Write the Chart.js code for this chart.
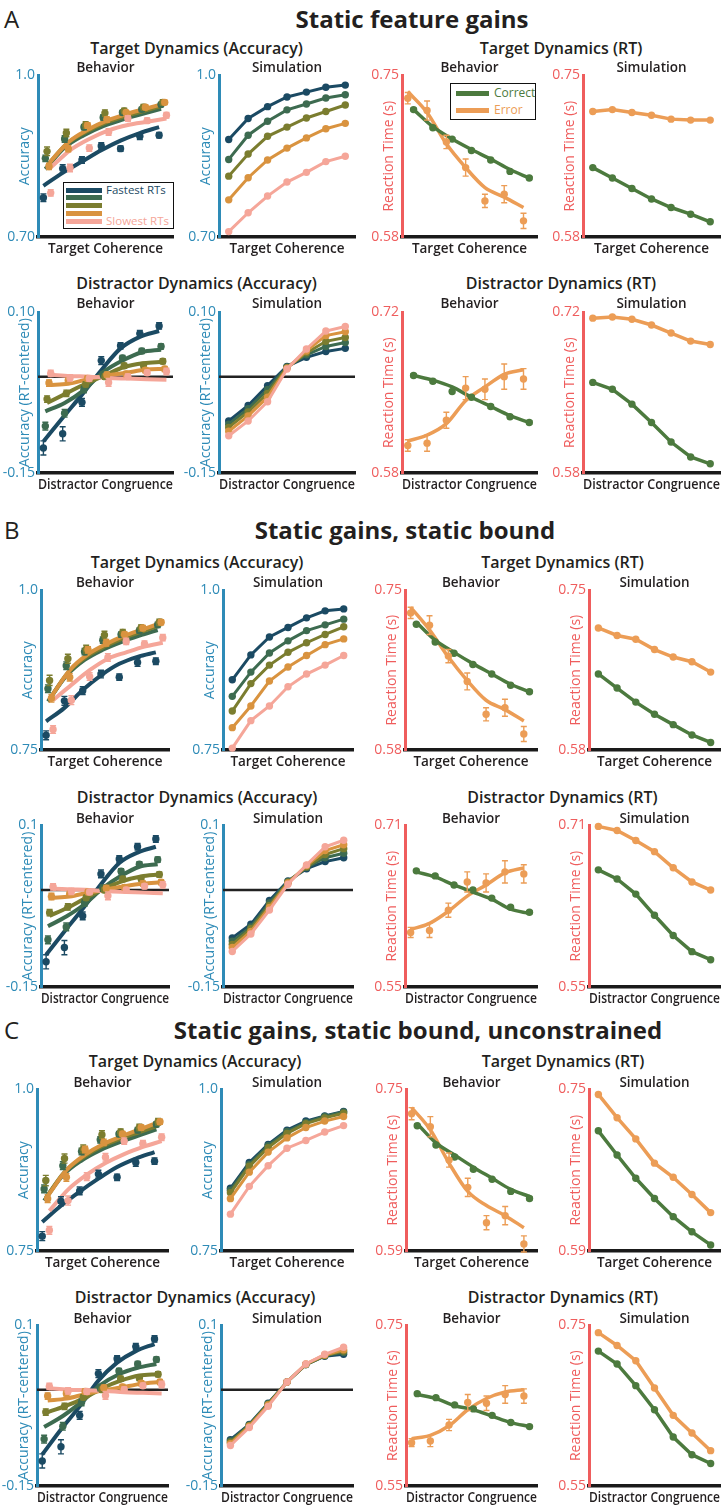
<!DOCTYPE html>
<html>
<head>
<meta charset="utf-8">
<script src="https://cdn.jsdelivr.net/npm/chart.js@4.4.1/dist/chart.umd.min.js"></script>
<style>
  body { margin: 0; background: #fff; }
  #page { position: relative; width: 725px; height: 1506px; overflow: hidden; font-family: "Open Sans", sans-serif; color: #231f20; }
  .t { position: absolute; white-space: nowrap; transform: translate(-50%, -50%); }
  .letter { position: absolute; font-size: 24px; transform: translateY(-50%); }
  .head { font-size: 24px; font-weight: 700; }
  .rowtitle { font-size: 16px; font-weight: 600; }
  .sub { font-size: 13.5px; font-weight: 600; }
  canvas { position: absolute; }
  .legend { position: absolute; border: 1.5px solid #111; background: #fff; box-sizing: border-box; }
  .legend .ln { position: absolute; height: 5px; }
  .legend .lb { position: absolute; line-height: 12px; transform: translateY(-50%); white-space: nowrap; }
</style>
</head>
<body>
<div id="page"></div>
<script>
// ---- x levels (coherence / congruence bins) ----
const levels = [1, 2, 3, 4, 5, 6, 7];
const rtBins = ["Fastest RTs", "", "", "", "Slowest RTs"];
const binShift = [-0.22, -0.12, -0.03, 0.07, 0.16];
const outcomes = ["Correct", "Error"];
const outcomeShift = [0.1, -0.2];

// ---- behaviour (same data in A, B and C) ----
const behTargetAcc = [
  [0.773, 0.827, 0.843, 0.869, 0.864, 0.887, 0.889],
  [0.846, 0.882, 0.904, 0.922, 0.931, 0.937, 0.946],
  [0.859, 0.893, 0.908, 0.930, 0.934, 0.941, 0.950],
  [0.831, 0.864, 0.907, 0.918, 0.931, 0.941, 0.950],
  [0.782, 0.828, 0.865, 0.895, 0.920, 0.916, 0.926]
];
const behTargetAccErr = [
  [0.007, 0.007, 0.006, 0.006, 0.005, 0.006, 0.005],
  [0.006, 0.006, 0.005, 0.005, 0.004, 0.004, 0.004],
  [0.008, 0.007, 0.006, 0.006, 0.005, 0.005, 0.005],
  [0.006, 0.006, 0.005, 0.005, 0.004, 0.004, 0.004],
  [0.006, 0.007, 0.006, 0.006, 0.005, 0.005, 0.005]
];
const behDistAcc = [
  [-0.111, -0.089, -0.040, 0.025, 0.048, 0.067, 0.079],
  [-0.077, -0.057, -0.020, 0.003, 0.029, 0.040, 0.047],
  [-0.035, -0.026, -0.012, 0.000, 0.017, 0.018, 0.024],
  [-0.010, -0.006, -0.003, 0.003, 0.004, 0.010, 0.012],
  [0.005, -0.002, -0.003, -0.009, 0.000, 0.006, 0.008]
];
const behDistAccErr = [
  [0.011, 0.011, 0.006, 0.006, 0.005, 0.005, 0.005],
  [0.006, 0.006, 0.005, 0.005, 0.004, 0.004, 0.004],
  [0.005, 0.005, 0.004, 0.004, 0.004, 0.004, 0.004],
  [0.005, 0.004, 0.004, 0.004, 0.004, 0.004, 0.004],
  [0.005, 0.005, 0.004, 0.006, 0.004, 0.004, 0.005]
];
const behTargetRtCorrect = [0.714, 0.695, 0.683, 0.671, 0.661, 0.649, 0.642];
const behTargetRtCorrectErr = [0.0015, 0.0015, 0.0015, 0.0015, 0.0015, 0.0015, 0.0015];
const behTargetRtError = [0.726, 0.713, 0.680, 0.653, 0.618, 0.625, 0.597];
const behTargetRtErrorErr = [0.006, 0.010, 0.007, 0.009, 0.007, 0.009, 0.008];
const behDistRtCorrect = [0.665, 0.660, 0.651, 0.646, 0.638, 0.629, 0.624];
const behDistRtCorrectErr = [0.0015, 0.0015, 0.0015, 0.0015, 0.0015, 0.0015, 0.0015];
const behDistRtError = [0.604, 0.606, 0.626, 0.654, 0.653, 0.664, 0.662];
const behDistRtErrorErr = [0.005, 0.007, 0.007, 0.010, 0.009, 0.011, 0.009];

// ---- A: static feature gains ----
const fitTargetAccA = [
  [0.795, 0.819, 0.840, 0.861, 0.879, 0.893, 0.904],
  [0.826, 0.866, 0.889, 0.906, 0.918, 0.928, 0.938],
  [0.832, 0.872, 0.895, 0.912, 0.924, 0.934, 0.944],
  [0.837, 0.876, 0.899, 0.916, 0.928, 0.938, 0.948],
  [0.829, 0.861, 0.882, 0.898, 0.908, 0.914, 0.920]
];
const simTargetAccA = [
  [0.881, 0.920, 0.942, 0.960, 0.969, 0.978, 0.982],
  [0.844, 0.889, 0.915, 0.936, 0.947, 0.958, 0.964],
  [0.813, 0.854, 0.887, 0.904, 0.921, 0.933, 0.945],
  [0.769, 0.810, 0.843, 0.865, 0.884, 0.901, 0.911],
  [0.710, 0.745, 0.776, 0.802, 0.820, 0.840, 0.850]
];
const fitTargetRtCorrectA = [0.714, 0.696, 0.683, 0.672, 0.662, 0.651, 0.642];
const fitTargetRtErrorA = [0.733, 0.711, 0.678, 0.653, 0.632, 0.622, 0.611];
const simTargetRtCorrectA = [0.653, 0.642, 0.631, 0.620, 0.611, 0.604, 0.596];
const simTargetRtErrorA = [0.712, 0.714, 0.711, 0.708, 0.704, 0.703, 0.703];
const fitDistAccA = [
  [-0.101, -0.064, -0.028, 0.010, 0.044, 0.062, 0.071],
  [-0.054, -0.041, -0.021, 0.007, 0.025, 0.038, 0.042],
  [-0.041, -0.026, -0.011, 0.002, 0.015, 0.021, 0.023],
  [-0.013, -0.011, -0.004, 0.002, 0.006, 0.011, 0.012],
  [0.003, 0.001, 0.000, -0.002, -0.003, -0.004, -0.005]
];
const simDistAccA = [
  [-0.069, -0.045, -0.014, 0.016, 0.030, 0.039, 0.044],
  [-0.074, -0.050, -0.020, 0.015, 0.034, 0.047, 0.053],
  [-0.079, -0.055, -0.026, 0.014, 0.037, 0.055, 0.061],
  [-0.085, -0.061, -0.032, 0.013, 0.040, 0.064, 0.070],
  [-0.092, -0.069, -0.039, 0.012, 0.043, 0.071, 0.078]
];
const fitDistRtCorrectA = [0.665, 0.661, 0.655, 0.646, 0.638, 0.630, 0.624];
const fitDistRtErrorA = [0.608, 0.613, 0.623, 0.643, 0.655, 0.666, 0.670];
const simDistRtCorrectA = [0.659, 0.653, 0.640, 0.624, 0.607, 0.594, 0.588];
const simDistRtErrorA = [0.715, 0.716, 0.714, 0.709, 0.702, 0.695, 0.692];

// ---- B: static gains, static bound ----
const fitTargetAccB = [
  [0.795, 0.816, 0.844, 0.867, 0.885, 0.896, 0.903],
  [0.826, 0.866, 0.891, 0.907, 0.919, 0.929, 0.938],
  [0.830, 0.871, 0.896, 0.912, 0.925, 0.935, 0.945],
  [0.834, 0.875, 0.900, 0.916, 0.929, 0.939, 0.949],
  [0.828, 0.852, 0.875, 0.893, 0.903, 0.912, 0.918]
];
const simTargetAccB = [
  [0.860, 0.899, 0.927, 0.942, 0.957, 0.968, 0.971],
  [0.834, 0.872, 0.902, 0.921, 0.937, 0.946, 0.955],
  [0.811, 0.854, 0.883, 0.903, 0.918, 0.931, 0.943],
  [0.785, 0.819, 0.858, 0.880, 0.898, 0.915, 0.924],
  [0.753, 0.796, 0.819, 0.849, 0.869, 0.883, 0.898]
];
const fitTargetRtCorrectB = [0.716, 0.697, 0.684, 0.672, 0.661, 0.650, 0.642];
const fitTargetRtErrorB = [0.732, 0.708, 0.679, 0.654, 0.633, 0.623, 0.611];
const simTargetRtCorrectB = [0.661, 0.646, 0.631, 0.618, 0.607, 0.596, 0.588];
const simTargetRtErrorB = [0.710, 0.702, 0.698, 0.687, 0.679, 0.674, 0.663];
const fitDistAccB = [
  [-0.100, -0.064, -0.029, 0.009, 0.042, 0.058, 0.067],
  [-0.056, -0.041, -0.022, 0.003, 0.022, 0.036, 0.040],
  [-0.040, -0.027, -0.012, 0.002, 0.014, 0.021, 0.024],
  [-0.012, -0.010, -0.004, 0.001, 0.006, 0.010, 0.012],
  [0.002, 0.001, 0.000, -0.002, -0.003, -0.004, -0.005]
];
const simDistAccB = [
  [-0.074, -0.053, -0.016, 0.014, 0.033, 0.044, 0.050],
  [-0.079, -0.057, -0.020, 0.013, 0.035, 0.050, 0.057],
  [-0.084, -0.060, -0.024, 0.012, 0.036, 0.055, 0.064],
  [-0.089, -0.064, -0.027, 0.011, 0.038, 0.061, 0.070],
  [-0.095, -0.068, -0.031, 0.009, 0.039, 0.067, 0.077]
];
const fitDistRtCorrectB = [0.664, 0.659, 0.651, 0.644, 0.637, 0.627, 0.623];
const fitDistRtErrorB = [0.607, 0.613, 0.625, 0.640, 0.651, 0.663, 0.668];
const simDistRtCorrectB = [0.666, 0.657, 0.642, 0.621, 0.601, 0.585, 0.577];
const simDistRtErrorB = [0.709, 0.705, 0.695, 0.684, 0.668, 0.654, 0.646];

// ---- C: static gains, static bound, unconstrained ----
const fitTargetAccC = [
  [0.795, 0.820, 0.842, 0.862, 0.880, 0.893, 0.903],
  [0.828, 0.867, 0.890, 0.906, 0.918, 0.928, 0.938],
  [0.832, 0.872, 0.895, 0.912, 0.924, 0.934, 0.944],
  [0.835, 0.875, 0.899, 0.916, 0.928, 0.939, 0.950],
  [0.812, 0.845, 0.868, 0.886, 0.900, 0.911, 0.920]
];
const simTargetAccC = [
  [0.847, 0.887, 0.915, 0.937, 0.951, 0.959, 0.966],
  [0.844, 0.884, 0.913, 0.935, 0.949, 0.958, 0.965],
  [0.840, 0.881, 0.910, 0.932, 0.947, 0.956, 0.963],
  [0.831, 0.872, 0.903, 0.925, 0.941, 0.951, 0.958],
  [0.807, 0.850, 0.882, 0.909, 0.921, 0.934, 0.944]
];
const fitTargetRtCorrectC = [0.716, 0.697, 0.685, 0.673, 0.662, 0.651, 0.644];
const fitTargetRtErrorC = [0.732, 0.710, 0.677, 0.649, 0.635, 0.625, 0.613];
const simTargetRtCorrectC = [0.709, 0.685, 0.662, 0.642, 0.624, 0.609, 0.596];
const simTargetRtErrorC = [0.745, 0.722, 0.701, 0.677, 0.663, 0.646, 0.628];
const fitDistAccC = [
  [-0.101, -0.062, -0.026, 0.014, 0.042, 0.060, 0.071],
  [-0.058, -0.041, -0.019, 0.007, 0.024, 0.034, 0.040],
  [-0.036, -0.026, -0.014, 0.002, 0.014, 0.022, 0.024],
  [-0.017, -0.014, -0.007, -0.001, 0.004, 0.009, 0.012],
  [0.002, 0.000, -0.001, -0.002, -0.004, -0.005, -0.006]
];
const simDistAccC = [
  [-0.078, -0.054, -0.021, 0.012, 0.039, 0.052, 0.055],
  [-0.080, -0.055, -0.022, 0.012, 0.039, 0.053, 0.058],
  [-0.082, -0.056, -0.023, 0.012, 0.039, 0.053, 0.060],
  [-0.084, -0.057, -0.024, 0.012, 0.040, 0.054, 0.062],
  [-0.087, -0.059, -0.026, 0.012, 0.040, 0.055, 0.066]
];
const fitDistRtCorrectC = [0.664, 0.659, 0.650, 0.645, 0.637, 0.629, 0.624];
const fitDistRtErrorC = [0.609, 0.613, 0.625, 0.645, 0.659, 0.667, 0.670];
const simDistRtCorrectC = [0.718, 0.702, 0.675, 0.645, 0.611, 0.589, 0.578];
const simDistRtErrorC = [0.741, 0.725, 0.706, 0.672, 0.638, 0.616, 0.594];

// ---- y ranges and tick labels ----
const accRangeA = [0.70, 1.0], accTicksA = ["0.70", "1.0"];
const accRangeBC = [0.75, 1.0], accTicksBC = ["0.75", "1.0"];
const distAccRange = [-0.15, 0.10], distAccTicksA = ["-0.15", "0.10"], distAccTicksBC = ["-0.15", "0.1"];
const targetRtRangeAB = [0.58, 0.75], targetRtTicksAB = ["0.58", "0.75"];
const targetRtRangeC = [0.59, 0.75], targetRtTicksC = ["0.59", "0.75"];
const distRtRangeA = [0.58, 0.72], distRtTicksA = ["0.58", "0.72"];
const distRtRangeB = [0.55, 0.71], distRtTicksB = ["0.55", "0.71"];
const distRtRangeC = [0.55, 0.75], distRtTicksC = ["0.55", "0.75"];

// ---- styling ----
const FONT = "Open Sans";
const binColors = ["#1b4a63", "#3d6b50", "#7b7d2f", "#d9933f", "#f5a699"];
const correctColor = "#4c7a3e", errorColor = "#ec9d56";
const accColor = "#2e8bb7", rtColor = "#ef5d5d";
const Y_W = 38, PAD_T = 8, PAD_R = 6, X_H = 24;

const page = document.getElementById("page");

function addText(txt, x, y, cls, color) {
  const d = document.createElement("div");
  d.className = cls === "letter" ? "letter" : "t " + cls;
  d.textContent = txt;
  d.style.left = x + "px";
  d.style.top = y + "px";
  if (color) d.style.color = color;
  page.appendChild(d);
}

const errorBars = {
  id: "errorBars",
  beforeDatasetDraw(chart, args) {
    const ds = chart.data.datasets[args.index];
    if (!ds.errors) return;
    const { ctx, scales: { x, y } } = chart;
    ctx.save();
    ctx.strokeStyle = ds.borderColor;
    ctx.lineWidth = 1.4;
    ds.data.forEach((p, i) => {
      const px = x.getPixelForValue(p.x);
      const hi = y.getPixelForValue(p.y + ds.errors[i]);
      const lo = y.getPixelForValue(p.y - ds.errors[i]);
      ctx.beginPath();
      ctx.moveTo(px, hi); ctx.lineTo(px, lo);
      ctx.moveTo(px - 3, hi); ctx.lineTo(px + 3, hi);
      ctx.moveTo(px - 3, lo); ctx.lineTo(px + 3, lo);
      ctx.stroke();
    });
    ctx.restore();
  }
};

const zeroLine = {
  id: "zeroLine",
  beforeDatasetsDraw(chart, args, opts) {
    if (!opts.show) return;
    const { ctx, chartArea, scales: { y } } = chart;
    const py = y.getPixelForValue(0);
    ctx.save();
    ctx.strokeStyle = "#222";
    ctx.lineWidth = 2.5;
    ctx.beginPath();
    ctx.moveTo(chartArea.left, py);
    ctx.lineTo(chartArea.right, py);
    ctx.stroke();
    ctx.restore();
  }
};

function pts(values, shift) {
  return levels.map((l, i) => ({ x: l + shift, y: values[i] }));
}
function fitLine(values, shift, color, w) {
  return { data: pts(values, shift), borderColor: color, borderWidth: w || 4, pointRadius: 0, cubicInterpolationMode: "monotone" };
}
function dots(values, errs, shift, color) {
  return { data: pts(values, shift), showLine: false, borderColor: color, pointBackgroundColor: color, pointBorderWidth: 0, pointRadius: 3.7, errors: errs };
}
function simLine(values, color, w) {
  return { data: pts(values, 0), borderColor: color, backgroundColor: color, borderWidth: w || 3, pointBackgroundColor: color, pointBorderWidth: 0, pointRadius: 3.7, tension: 0 };
}

function panel(col, row, spec) {
  const [left, right] = col;
  const cv = document.createElement("canvas");
  cv.width = right - left + Y_W + PAD_R;
  cv.height = row.bottom - row.top + PAD_T + X_H;
  cv.style.left = (left - Y_W) + "px";
  cv.style.top = (row.top - PAD_T) + "px";
  page.appendChild(cv);
  // first in list is painted first (bottom)
  const datasets = spec.datasets.map((d, i, all) => Object.assign({ order: all.length - i, clip: false, fill: false }, d));
  new Chart(cv, {
    type: "line",
    data: { datasets },
    options: {
      responsive: false,
      animation: false,
      devicePixelRatio: 1,
      layout: { padding: { top: PAD_T, right: PAD_R, left: 0, bottom: 0 } },
      plugins: { legend: { display: false }, tooltip: { enabled: false }, zeroLine: { show: !!spec.zero } },
      scales: {
        x: {
          type: "linear", min: 0.5, max: 7.5,
          grid: { display: false, drawTicks: false },
          ticks: { display: false },
          border: { display: true, color: "#1a1a1a", width: 3.5 },
          title: { display: true, text: spec.xTitle, color: "#231f20", font: { family: FONT, size: 13.5, weight: "600" }, padding: { top: 0, bottom: 4 } },
          afterFit: s => { s.height = X_H; }
        },
        y: {
          type: "linear", min: spec.range[0], max: spec.range[1],
          grid: { display: false, drawTicks: false },
          border: { display: true, color: spec.color, width: 3 },
          ticks: { color: spec.color, font: { family: FONT, size: 14 }, padding: 3, callback: (v, i) => spec.ticks[i] },
          afterBuildTicks: s => { s.ticks = [{ value: spec.range[0] }, { value: spec.range[1] }]; },
          afterFit: s => { s.width = Y_W; },
          title: { display: true, text: spec.yTitle, color: spec.color, font: { family: FONT, size: 14 }, padding: { top: 17, bottom: 0 } }
        }
      }
    },
    plugins: [errorBars, zeroLine]
  });
}

function accBehavior(fits, beh, errs) {
  const sets = [];
  fits.forEach((f, k) => sets.push(fitLine(f, binShift[k], binColors[k])));
  beh.forEach((b, k) => sets.push(dots(b, errs[k], binShift[k], binColors[k])));
  return sets;
}
function accSimulation(sim) {
  return sim.map((s, k) => simLine(s, binColors[k]));
}
function rtBehavior(fitC, fitE, behC, errC, behE, errE) {
  return [
    fitLine(fitE, outcomeShift[1], errorColor, 3.5),
    fitLine(fitC, outcomeShift[0], correctColor, 3.5),
    dots(behC, errC, outcomeShift[0], correctColor),
    dots(behE, errE, outcomeShift[1], errorColor)
  ];
}
function rtSimulation(simC, simE) {
  return [simLine(simE, errorColor, 3.5), simLine(simC, correctColor, 3.5)];
}

const sections = [
  {
    letter: "A", title: "Static feature gains", headX: 412, headY: 18,
    rows: [{ titleY: 48, subY: 67, top: 72, bottom: 237 }, { titleY: 283, subY: 303, top: 309, bottom: 473 }],
    cols: [[38, 173], [219, 355], [402, 537], [583, 720]],
    acc: [accRangeA, accTicksA], dist: [distAccRange, distAccTicksA],
    trt: [targetRtRangeAB, targetRtTicksAB], drt: [distRtRangeA, distRtTicksA],
    fitTA: fitTargetAccA, simTA: simTargetAccA, fitTC: fitTargetRtCorrectA, fitTE: fitTargetRtErrorA,
    simTC: simTargetRtCorrectA, simTE: simTargetRtErrorA, fitDA: fitDistAccA, simDA: simDistAccA,
    fitDC: fitDistRtCorrectA, fitDE: fitDistRtErrorA, simDC: simDistRtCorrectA, simDE: simDistRtErrorA
  },
  {
    letter: "B", title: "Static gains, static bound", headX: 405, headY: 529,
    rows: [{ titleY: 562, subY: 582, top: 587, bottom: 750 }, { titleY: 797, subY: 818, top: 822, bottom: 987 }],
    cols: [[41, 169], [223, 353], [405, 537], [589, 720]],
    acc: [accRangeBC, accTicksBC], dist: [distAccRange, distAccTicksBC],
    trt: [targetRtRangeAB, targetRtTicksAB], drt: [distRtRangeB, distRtTicksB],
    fitTA: fitTargetAccB, simTA: simTargetAccB, fitTC: fitTargetRtCorrectB, fitTE: fitTargetRtErrorB,
    simTC: simTargetRtCorrectB, simTE: simTargetRtErrorB, fitDA: fitDistAccB, simDA: simDistAccB,
    fitDC: fitDistRtCorrectB, fitDE: fitDistRtErrorB, simDC: simDistRtCorrectB, simDE: simDistRtErrorB
  },
  {
    letter: "C", title: "Static gains, static bound, unconstrained", headX: 418, headY: 1029,
    rows: [{ titleY: 1061, subY: 1082, top: 1086, bottom: 1251 }, { titleY: 1297, subY: 1318, top: 1322, bottom: 1486 }],
    cols: [[37, 168], [221, 353], [406, 537], [589, 720]],
    acc: [accRangeBC, accTicksBC], dist: [distAccRange, distAccTicksBC],
    trt: [targetRtRangeC, targetRtTicksC], drt: [distRtRangeC, distRtTicksC],
    fitTA: fitTargetAccC, simTA: simTargetAccC, fitTC: fitTargetRtCorrectC, fitTE: fitTargetRtErrorC,
    simTC: simTargetRtCorrectC, simTE: simTargetRtErrorC, fitDA: fitDistAccC, simDA: simDistAccC,
    fitDC: fitDistRtCorrectC, fitDE: fitDistRtErrorC, simDC: simDistRtCorrectC, simDE: simDistRtErrorC
  }
];

sections.forEach(sec => {
  addText(sec.letter, 4, sec.headY, "letter");
  addText(sec.title, sec.headX, sec.headY, "head");
  const [r1, r2] = sec.rows;
  const c = sec.cols;
  const pairMid = (a, b) => (a[0] + b[1]) / 2;
  const mid = a => (a[0] + a[1]) / 2;

  addText("Target Dynamics (Accuracy)", pairMid(c[0], c[1]), r1.titleY, "rowtitle");
  addText("Target Dynamics (RT)", pairMid(c[2], c[3]), r1.titleY, "rowtitle");
  addText("Distractor Dynamics (Accuracy)", pairMid(c[0], c[1]), r2.titleY, "rowtitle");
  addText("Distractor Dynamics (RT)", pairMid(c[2], c[3]), r2.titleY, "rowtitle");

  const base = (xTitle, yTitle, color, rt) => ({ xTitle, yTitle, color, range: rt[0], ticks: rt[1] });

  panel(c[0], r1, Object.assign(base("Target Coherence", "Accuracy", accColor, sec.acc),
    { datasets: accBehavior(sec.fitTA, behTargetAcc, behTargetAccErr) }));
  panel(c[1], r1, Object.assign(base("Target Coherence", "Accuracy", accColor, sec.acc),
    { datasets: accSimulation(sec.simTA) }));
  panel(c[2], r1, Object.assign(base("Target Coherence", "Reaction Time (s)", rtColor, sec.trt),
    { datasets: rtBehavior(sec.fitTC, sec.fitTE, behTargetRtCorrect, behTargetRtCorrectErr, behTargetRtError, behTargetRtErrorErr) }));
  panel(c[3], r1, Object.assign(base("Target Coherence", "Reaction Time (s)", rtColor, sec.trt),
    { datasets: rtSimulation(sec.simTC, sec.simTE) }));

  panel(c[0], r2, Object.assign(base("Distractor Congruence", "Accuracy (RT-centered)", accColor, sec.dist),
    { zero: true, datasets: accBehavior(sec.fitDA, behDistAcc, behDistAccErr) }));
  panel(c[1], r2, Object.assign(base("Distractor Congruence", "Accuracy (RT-centered)", accColor, sec.dist),
    { zero: true, datasets: accSimulation(sec.simDA) }));
  panel(c[2], r2, Object.assign(base("Distractor Congruence", "Reaction Time (s)", rtColor, sec.drt),
    { datasets: rtBehavior(sec.fitDC, sec.fitDE, behDistRtCorrect, behDistRtCorrectErr, behDistRtError, behDistRtErrorErr) }));
  panel(c[3], r2, Object.assign(base("Distractor Congruence", "Reaction Time (s)", rtColor, sec.drt),
    { datasets: rtSimulation(sec.simDC, sec.simDE) }));

  [r1, r2].forEach(r => {
    ["Behavior", "Simulation", "Behavior", "Simulation"].forEach((s, i) => addText(s, mid(c[i]), r.subY, "sub"));
  });
});

// legends (section A only)
function legend(left, top, w, h, size, rows) {
  const box = document.createElement("div");
  box.className = "legend";
  Object.assign(box.style, { left: left + "px", top: top + "px", width: w + "px", height: h + "px" });
  rows.forEach(r => {
    const ln = document.createElement("div");
    ln.className = "ln";
    Object.assign(ln.style, { left: r.lx + "px", width: r.lw + "px", top: (r.y - 2.5) + "px", background: r.color });
    box.appendChild(ln);
    if (r.text) {
      const lb = document.createElement("div");
      lb.className = "lb";
      lb.textContent = r.text;
      Object.assign(lb.style, { left: r.tx + "px", top: r.y + "px", color: r.color, fontSize: size + "px" });
      box.appendChild(lb);
    }
  });
  page.appendChild(box);
}
legend(63, 182, 111, 47, 11.5, rtBins.map((t, k) => ({ text: t, color: binColors[k], lx: 2, lw: 36, tx: 42, y: 7 + k * 7.8 })));
legend(450, 83, 86, 37, 12, outcomes.map((t, k) => ({ text: t, color: k ? errorColor : correctColor, lx: 5, lw: 33, tx: 43, y: 9 + k * 17 })));
</script>
</body>
</html>
